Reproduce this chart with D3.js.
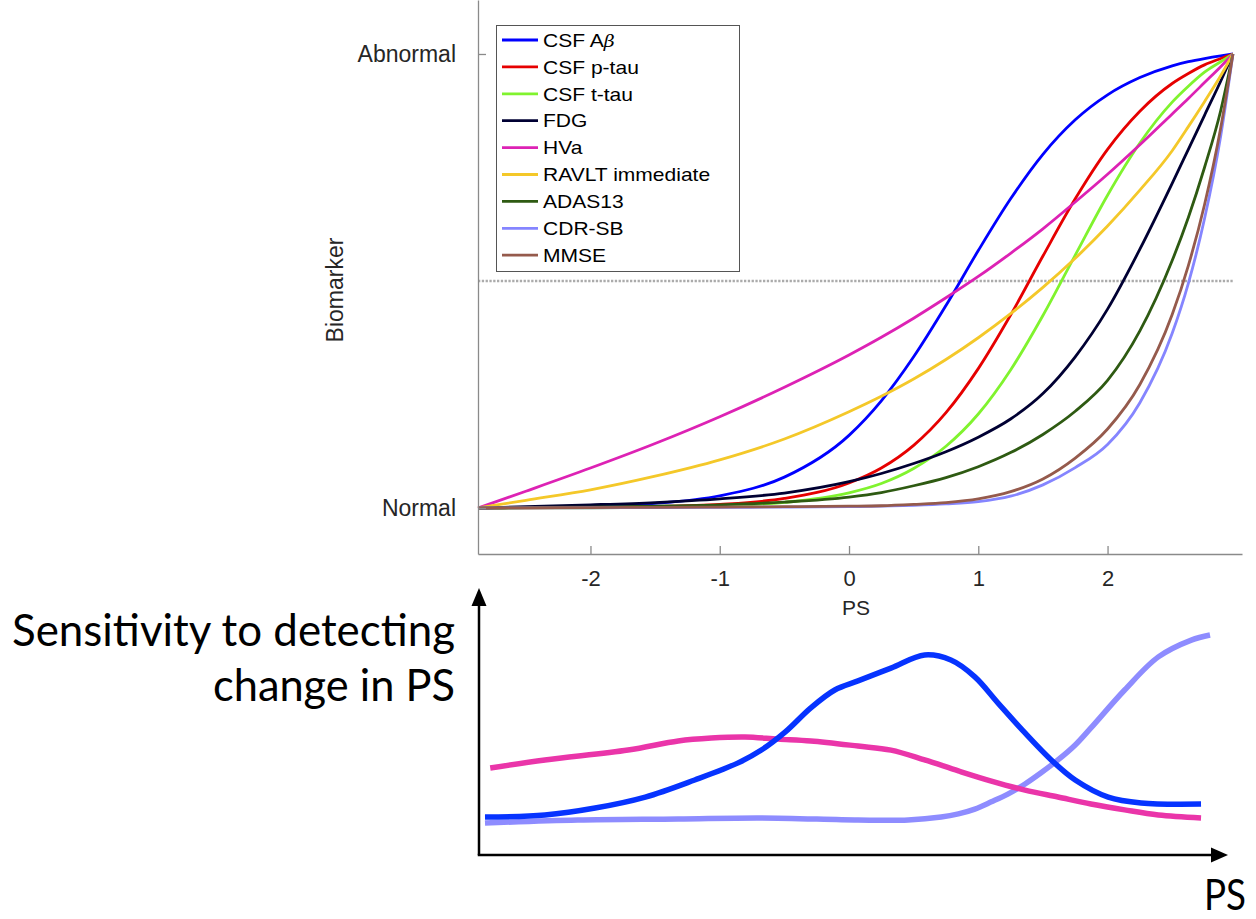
<!DOCTYPE html>
<html>
<head>
<meta charset="utf-8">
<script src="https://cdn.jsdelivr.net/npm/d3@7"></script>
<style>
  body { margin: 0; background: #fff; }
  svg { display: block; }
</style>
</head>
<body>
<svg id="fig" width="1256" height="919"></svg>
<script>
// ---- Biomarker trajectories along the disease progression score (PS) ----
const psGrid   = [-2.87, -2.5, -2, -1.5, -1, -0.5, 0, 0.25, 0.5, 0.75, 1, 1.25, 1.5, 1.75, 2, 2.25, 2.5, 2.625, 2.75, 2.875, 2.97];
const csfAbeta = [0, 0.001, 0.003, 0.010, 0.027, 0.068, 0.160, 0.236, 0.333, 0.446, 0.567, 0.681, 0.779, 0.855, 0.910, 0.948, 0.974, 0.983, 0.990, 0.996, 1];
const csfPtau  = [0, 0.0002, 0.001, 0.003, 0.008, 0.021, 0.055, 0.088, 0.138, 0.210, 0.307, 0.425, 0.555, 0.681, 0.790, 0.874, 0.935, 0.957, 0.976, 0.990, 1];
const csfTtau  = [0, 0.0001, 0.0005, 0.0016, 0.0046, 0.0125, 0.0335, 0.054, 0.087, 0.136, 0.207, 0.304, 0.424, 0.557, 0.689, 0.804, 0.894, 0.929, 0.960, 0.983, 1];
const fdg      = [0, 0.003, 0.007, 0.012, 0.020, 0.033, 0.058, 0.076, 0.098, 0.124, 0.156, 0.196, 0.252, 0.333, 0.438, 0.570, 0.715, 0.790, 0.865, 0.940, 1];
const hva      = [0, 0.037, 0.088, 0.142, 0.201, 0.266, 0.337, 0.376, 0.418, 0.463, 0.510, 0.561, 0.615, 0.674, 0.735, 0.800, 0.868, 0.902, 0.937, 0.972, 1];
const ravlt    = [0, 0.017, 0.040, 0.070, 0.106, 0.152, 0.212, 0.246, 0.284, 0.327, 0.375, 0.428, 0.486, 0.550, 0.621, 0.700, 0.787, 0.840, 0.895, 0.952, 1];
const adas13   = [0, 0.001, 0.002, 0.004, 0.007, 0.013, 0.024, 0.034, 0.049, 0.067, 0.091, 0.122, 0.162, 0.213, 0.281, 0.390, 0.545, 0.640, 0.750, 0.875, 1];
const cdrsb    = [0, 0.0003, 0.0006, 0.001, 0.0015, 0.002, 0.003, 0.004, 0.006, 0.009, 0.014, 0.026, 0.051, 0.089, 0.140, 0.232, 0.385, 0.495, 0.637, 0.819, 1];
const mmse     = [0, 0.0005, 0.001, 0.0015, 0.002, 0.003, 0.004, 0.005, 0.008, 0.012, 0.020, 0.036, 0.064, 0.110, 0.174, 0.272, 0.426, 0.534, 0.668, 0.837, 1];

const seriesNames  = ["CSF Aβ", "CSF p-tau", "CSF t-tau", "FDG", "HVa", "RAVLT immediate", "ADAS13", "CDR-SB", "MMSE"];
const seriesValues = [csfAbeta, csfPtau, csfTtau, fdg, hva, ravlt, adas13, cdrsb, mmse];
const seriesColors = ["#0000ff", "#e60000", "#80f32e", "#000033", "#dd22b4", "#f4c829", "#2e5a12", "#8585ff", "#955a4c"];

const xTicks = [-2, -1, 0, 1, 2];
const yTicks = [0, 1];
const yTickLabels = ["Normal", "Abnormal"];
const abnormalThreshold = 0.5;

// ---- Sensitivity sketch (unitless 0..1 in both directions) ----
const sensAbetaX = [0.008, 0.088, 0.155, 0.222, 0.288, 0.346, 0.377, 0.409, 0.443, 0.475, 0.506, 0.550, 0.595, 0.630, 0.662, 0.693, 0.729, 0.764, 0.796, 0.840, 0.884, 0.964];
const sensAbetaY = [0.142, 0.150, 0.176, 0.217, 0.281, 0.345, 0.393, 0.461, 0.551, 0.618, 0.652, 0.700, 0.749, 0.730, 0.667, 0.569, 0.457, 0.356, 0.281, 0.217, 0.195, 0.191];
const sensHvaX   = [0.015, 0.088, 0.199, 0.266, 0.310, 0.355, 0.399, 0.443, 0.506, 0.550, 0.595, 0.640, 0.684, 0.729, 0.773, 0.817, 0.862, 0.907, 0.964];
const sensHvaY   = [0.326, 0.356, 0.393, 0.427, 0.438, 0.442, 0.434, 0.427, 0.408, 0.393, 0.356, 0.315, 0.277, 0.243, 0.217, 0.191, 0.169, 0.150, 0.139];
const sensCdrX   = [0.008, 0.132, 0.266, 0.377, 0.506, 0.573, 0.617, 0.640, 0.662, 0.684, 0.706, 0.729, 0.750, 0.773, 0.796, 0.817, 0.862, 0.907, 0.951, 0.976];
const sensCdrY   = [0.120, 0.131, 0.135, 0.139, 0.131, 0.131, 0.142, 0.154, 0.172, 0.199, 0.228, 0.266, 0.307, 0.356, 0.412, 0.476, 0.618, 0.742, 0.805, 0.824];
const sensColors = ["#0633ff", "#ea35a9", "#8e8cff"];

const svg = d3.select("#fig");
const axisGrey = "#8a8a8a";
const textGrey = "#262626";
const helv = "'Liberation Sans', Arial, Helvetica, sans-serif";

// ---------------- Upper panel ----------------
const x = d3.scaleLinear().domain([-2.87, 3.04]).range([478, 1242]);
const y = d3.scaleLinear().domain([-0.1013, 1.1189]).range([554, 0]);

const upper = svg.append("g");

// abnormality threshold
upper.append("line")
  .attr("x1", x(psGrid[0])).attr("x2", x(psGrid[psGrid.length - 1]))
  .attr("y1", y(abnormalThreshold)).attr("y2", y(abnormalThreshold))
  .attr("stroke", "#ababab").attr("stroke-width", 2.3)
  .attr("stroke-dasharray", "2.3,1.5");

const line = d3.line()
  .x((d, i) => x(psGrid[i]))
  .y(d => y(d))
  .curve(d3.curveMonotoneX);

upper.selectAll("path.traj")
  .data(seriesValues)
  .join("path")
  .attr("class", "traj")
  .attr("d", line)
  .attr("fill", "none")
  .attr("stroke", (d, i) => seriesColors[i])
  .attr("stroke-width", 2.8)
  .attr("stroke-linejoin", "round");

// axes
const xAxis = upper.append("g")
  .attr("transform", `translate(0,${y.range()[0]})`)
  .call(d3.axisBottom(x).tickValues(xTicks).tickSize(-8).tickSizeOuter(0).tickPadding(16).tickFormat(d => String(d)));
const yAxis = upper.append("g")
  .attr("transform", `translate(${x.range()[0]},0)`)
  .call(d3.axisLeft(y).tickValues(yTicks).tickSize(-8).tickSizeOuter(0).tickPadding(22)
        .tickFormat((d, i) => yTickLabels[i]));

[xAxis, yAxis].forEach(g => {
  g.select(".domain").attr("stroke", axisGrey).attr("stroke-width", 1.3);
  g.selectAll(".tick line").attr("stroke", axisGrey).attr("stroke-width", 1.3);
  g.selectAll(".tick text").attr("fill", textGrey).attr("font-family", helv);
});
xAxis.selectAll(".tick text").attr("font-size", 22);
yAxis.selectAll(".tick text").attr("font-size", 23);

upper.append("text")
  .attr("x", 856).attr("y", 615)
  .attr("text-anchor", "middle")
  .attr("font-family", helv).attr("font-size", 21).attr("fill", textGrey)
  .text("PS");

upper.append("text")
  .attr("transform", "translate(343,290) rotate(-90)")
  .attr("text-anchor", "middle")
  .attr("font-family", helv).attr("font-size", 23).attr("fill", textGrey)
  .text("Biomarker");

// legend
const legend = upper.append("g");
legend.append("rect")
  .attr("x", 496.5).attr("y", 25.5).attr("width", 243).attr("height", 246)
  .attr("fill", "#fff").attr("stroke", "#555").attr("stroke-width", 1);

const rows = legend.selectAll("g.row")
  .data(seriesNames)
  .join("g")
  .attr("class", "row")
  .attr("transform", (d, i) => `translate(0,${40 + i * 26.9})`);

rows.append("line")
  .attr("x1", 502).attr("x2", 538)
  .attr("stroke", (d, i) => seriesColors[i])
  .attr("stroke-width", 2.8);

rows.append("text")
  .attr("transform", "translate(543,0) scale(1.12,1)")
  .attr("x", 0).attr("y", 0).attr("dy", "0.36em")
  .attr("font-family", helv).attr("font-size", 18.8).attr("fill", "#000")
  .each(function (d) {
    const t = d3.select(this);
    if (d.endsWith("β")) {
      t.append("tspan").text(d.slice(0, -1));
      t.append("tspan").attr("font-style", "italic").attr("font-family", "'DejaVu Serif', serif").attr("font-size", 17).text("β");
    } else {
      t.text(d);
    }
  });

// ---------------- Lower sketch ----------------
const bx = d3.scaleLinear().domain([0, 1]).range([479, 1228]);
const by = d3.scaleLinear().domain([0, 1]).range([855, 588]);
const lower = svg.append("g");

const sensLine = d3.line().curve(d3.curveCatmullRom.alpha(0.5));
const sensSets = [
  [sensCdrX, sensCdrY],
  [sensHvaX, sensHvaY],
  [sensAbetaX, sensAbetaY]
];
const sensSetColors = [sensColors[2], sensColors[1], sensColors[0]];

lower.selectAll("path.sens")
  .data(sensSets)
  .join("path")
  .attr("class", "sens")
  .attr("d", ([xs, ys]) => sensLine(xs.map((v, i) => [bx(v), by(ys[i])])))
  .attr("fill", "none")
  .attr("stroke", (d, i) => sensSetColors[i])
  .attr("stroke-width", 5.5)
  .attr("stroke-linecap", "butt")
  .attr("stroke-linejoin", "round");

// arrows
lower.append("line")
  .attr("x1", bx(0)).attr("y1", by(0)).attr("x2", bx(0)).attr("y2", by(1) + 14)
  .attr("stroke", "#000").attr("stroke-width", 2.5);
lower.append("line")
  .attr("x1", bx(0) - 1.25).attr("y1", by(0)).attr("x2", bx(1) - 14).attr("y2", by(0))
  .attr("stroke", "#000").attr("stroke-width", 2.5);
lower.append("path")
  .attr("d", `M${bx(0)},${by(1)} L${bx(0) - 7.5},${by(1) + 18} L${bx(0) + 7.5},${by(1) + 18} Z`)
  .attr("fill", "#000");
lower.append("path")
  .attr("d", `M${bx(1)},${by(0)} L${bx(1) - 17},${by(0) - 7.5} L${bx(1) - 17},${by(0) + 7.5} Z`)
  .attr("fill", "#000");

const sketchFont = "Lato, 'Open Sans', sans-serif";
lower.append("text")
  .attr("x", 455).attr("y", 646).attr("text-anchor", "end")
  .attr("font-family", sketchFont).attr("font-size", 44).attr("fill", "#000")
  .attr("textLength", 443).attr("lengthAdjust", "spacingAndGlyphs")
  .text("Sensitivity to detecting");
lower.append("text")
  .attr("x", 455).attr("y", 701).attr("text-anchor", "end")
  .attr("font-family", sketchFont).attr("font-size", 44).attr("fill", "#000")
  .attr("textLength", 242).attr("lengthAdjust", "spacingAndGlyphs")
  .text("change in PS");
lower.append("text")
  .attr("x", 1204).attr("y", 910)
  .attr("font-family", sketchFont).attr("font-size", 42).attr("fill", "#000")
  .attr("textLength", 42).attr("lengthAdjust", "spacingAndGlyphs")
  .text("PS");
</script>
</body>
</html>
